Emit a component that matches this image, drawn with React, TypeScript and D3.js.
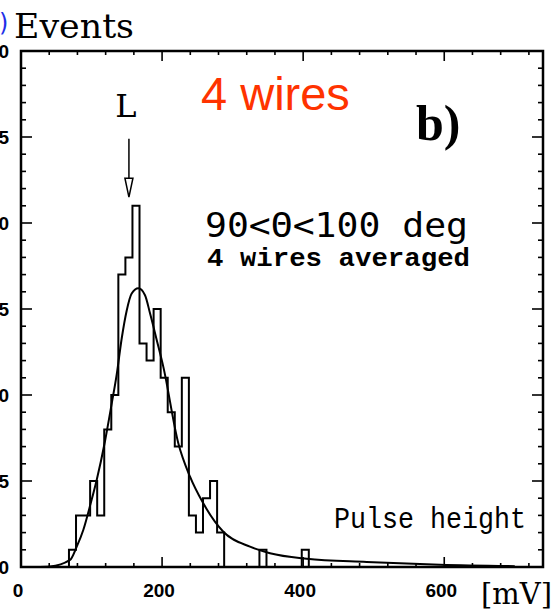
import React from "react";
import * as d3 from "d3";

const W = 558;
const H = 610;

// Histogram: lower bin edges (mV) and event counts, bin width 10 mV
const binLow = [58, 68, 78, 88, 98, 108, 118, 128, 138, 148, 158, 168, 178, 188, 198, 208, 218, 228, 238, 248, 258, 268, 278, 288, 298, 308, 318, 328, 338, 348, 358, 368, 378, 388, 398, 408];
const binCount = [0, 1, 3, 3, 5, 3, 8, 10, 17, 18, 21, 13, 12, 15, 11, 9, 7, 11, 3, 2, 4, 5, 2, 0, 0, 0, 0, 0, 1, 0, 0, 0, 0, 0, 1, 0];
const BIN_WIDTH = 10;

// Fitted curve
const fitMv = [20, 41, 69.5, 79, 88.3, 98.8, 107.3, 119, 128.6, 135.7, 142.8, 149.8, 156.9, 166.3, 175.8, 182.9, 192.4, 201.7, 223, 239.6, 258.4, 286.8, 324.6, 353, 405, 490, 594, 700];
const fitCount = [0.0, 0.03, 0.41, 1.18, 2.15, 3.7, 5.06, 7.3, 9.5, 11.2, 13.3, 14.9, 15.9, 16.2, 15.8, 14.75, 13.2, 11.65, 7.2, 5.25, 3.7, 2.05, 1.18, 0.8, 0.48, 0.29, 0.13, 0.05];

// Axes
const xMajorTicks = [0, 200, 400, 600];
const xMinorTicks = [40, 80, 120, 160, 240, 280, 320, 360, 440, 480, 520, 560, 640, 680, 720];
const yMajorTicks = [0, 5, 10, 15, 20, 25, 30];
const yMinorTicks = [1, 2, 3, 4, 6, 7, 8, 9, 11, 12, 13, 14, 16, 17, 18, 19, 21, 22, 23, 24, 26, 27, 28, 29];
const xTickLabels = ["0", "200", "400", "600"];
const yTickLabels = ["0", "5", "10", "15", "20", "25", "30"];

// Peak marker
const markerMv = 153;
const markerTop = 24.9;
const markerBottom = 21.5;

export default function App() {
  const x = d3.scaleLinear().domain([0, 740]).range([21, 543]);
  const y = d3.scaleLinear().domain([0, 30]).range([567, 51]);

  // Histogram outline
  const pts: [number, number][] = [];
  pts.push([x(binLow[0]), y(0)]);
  binLow.forEach((lo, i) => {
    pts.push([x(lo), y(binCount[i])]);
    pts.push([x(lo + BIN_WIDTH), y(binCount[i])]);
  });
  pts.push([x(binLow[binLow.length - 1] + BIN_WIDTH), y(0)]);
  const histPath = d3.line()(pts) as string;

  const fitPath = d3
    .line<number>()
    .x((d, i) => x(fitMv[i]))
    .y((d) => y(d))
    .curve(d3.curveMonotoneX)(fitCount) as string;

  const x0 = x.range()[0];
  const x1 = x.range()[1];
  const yb = y.range()[0];
  const yt = y.range()[1];

  const ax = x(markerMv);
  const ayTop = y(markerTop);
  const ayBot = y(markerBottom);
  const headH = 19;

  const sans = "'Liberation Sans', Arial, sans-serif";
  const serif = "'DejaVu Serif', serif";
  const mono = "'Liberation Mono', 'DejaVu Sans Mono', monospace";

  return (
    <svg
      width={W}
      height={H}
      viewBox={`0 0 ${W} ${H}`}
      style={{ position: "absolute", left: 0, top: 0, background: "#fff" }}
    >
      <rect x={0} y={0} width={W} height={H} fill="#fff" />

      {/* frame */}
      <rect x={x0} y={yt} width={x1 - x0} height={yb - yt} fill="none" stroke="#000" strokeWidth={2.5} />

      {/* x ticks bottom & top */}
      {xMajorTicks.map((t) => (
        <g key={"xM" + t}>
          <line x1={x(t)} x2={x(t)} y1={yb} y2={yb - 10} stroke="#000" strokeWidth={1.6} />
          <line x1={x(t)} x2={x(t)} y1={yt} y2={yt + 10} stroke="#000" strokeWidth={1.6} />
        </g>
      ))}
      {xMinorTicks.map((t) => (
        <g key={"xm" + t}>
          <line x1={x(t)} x2={x(t)} y1={yb} y2={yb - 4} stroke="#000" strokeWidth={1.6} />
          <line x1={x(t)} x2={x(t)} y1={yt} y2={yt + 4} stroke="#000" strokeWidth={1.6} />
        </g>
      ))}
      {/* y ticks left & right */}
      {yMajorTicks.map((t) => (
        <g key={"yM" + t}>
          <line x1={x0} x2={x0 + 11} y1={y(t)} y2={y(t)} stroke="#000" strokeWidth={1.6} />
          <line x1={x1} x2={x1 - 11} y1={y(t)} y2={y(t)} stroke="#000" strokeWidth={1.6} />
        </g>
      ))}
      {yMinorTicks.map((t) => (
        <g key={"ym" + t}>
          <line x1={x0} x2={x0 + 5} y1={y(t)} y2={y(t)} stroke="#000" strokeWidth={1.6} />
          <line x1={x1} x2={x1 - 5} y1={y(t)} y2={y(t)} stroke="#000" strokeWidth={1.6} />
        </g>
      ))}

      {/* tick labels */}
      {xMajorTicks.map((t, i) => (
        <text key={"xl" + t} x={x(t) - 3} y={597} textAnchor="middle" fontFamily={sans} fontWeight="bold" fontSize={19}>
          {xTickLabels[i]}
        </text>
      ))}
      {yMajorTicks.map((t, i) => (
        <text key={"yl" + t} x={9} y={y(t) + 7} textAnchor="end" fontFamily={sans} fontWeight="bold" fontSize={19}>
          {yTickLabels[i]}
        </text>
      ))}

      {/* histogram */}
      <path d={histPath} fill="none" stroke="#000" strokeWidth={2} strokeLinejoin="miter" />
      {/* fit */}
      <path d={fitPath} fill="none" stroke="#000" strokeWidth={2} />

      {/* marker arrow */}
      <line x1={ax} x2={ax} y1={ayTop} y2={ayBot - headH} stroke="#000" strokeWidth={1.5} />
      <path
        d={`M${ax - 4},${ayBot - headH} L${ax + 4},${ayBot - headH} L${ax},${ayBot} Z`}
        fill="#fff"
        stroke="#000"
        strokeWidth={1.5}
      />
      <text x={ax - 3} y={117} textAnchor="middle" fontFamily={serif} fontSize={32}>
        L
      </text>

      {/* labels */}
      <text x={-1} y={31} fontFamily="'DejaVu Sans', sans-serif" fontSize={24} fill="#1f2fe8">
        )
      </text>
      <text x={14} y={38} fontFamily={serif} fontSize={33} textLength={120} lengthAdjust="spacingAndGlyphs">
        Events
      </text>
      <text x={201} y={110} fontFamily={sans} fontSize={47} fill="#ff3300">
        4 wires
      </text>
      <text x={416} y={140} fontFamily="'Liberation Serif', serif" fontWeight="bold" fontSize={50}>
        b)
      </text>
      <text x={205} y={237} fontFamily="'DejaVu Sans Mono', monospace" fontSize={33} textLength={263} lengthAdjust="spacingAndGlyphs">
        90&lt;Θ&lt;100 deg
      </text>
      <text x={207} y={266} fontFamily={mono} fontWeight="bold" fontSize={26} textLength={263} lengthAdjust="spacingAndGlyphs">
        4 wires averaged
      </text>
      <text x={334} y={528} fontFamily={mono} fontSize={30} textLength={192} lengthAdjust="spacingAndGlyphs">
        Pulse height
      </text>
      <text x={481} y={604} fontFamily={serif} fontSize={29} textLength={71} lengthAdjust="spacingAndGlyphs">
        [mV]
      </text>
    </svg>
  );
}
